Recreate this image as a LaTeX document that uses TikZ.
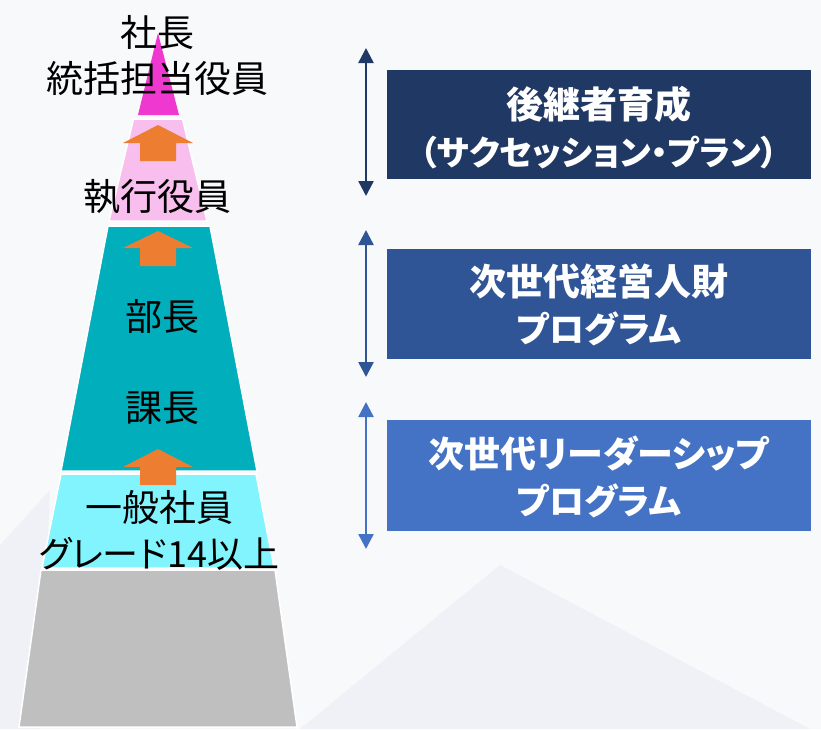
\documentclass[tikz,border=0pt]{standalone}
\usepackage{fontspec}
\setmainfont{Noto Sans CJK JP}[RawFeature=+palt]
\usetikzlibrary{arrows.meta}
\definecolor{bgbase}{HTML}{F8F9FB}
\definecolor{bgfacet}{HTML}{EFF1F6}
\definecolor{magentaL}{HTML}{EE38D0}
\definecolor{pinkL}{HTML}{F8BFEE}
\definecolor{tealL}{HTML}{00AEBC}
\definecolor{cyanL}{HTML}{82F4FE}
\definecolor{grayL}{HTML}{BFBFBF}
\definecolor{orangeA}{HTML}{ED7D31}
\definecolor{navyA}{HTML}{203864}
\definecolor{blueB}{HTML}{2F5597}
\definecolor{blueC}{HTML}{4472C4}
\newcommand{\kanasize}{\fontsize{35}{47}\selectfont}
\begin{document}
\begin{tikzpicture}[x=1pt,y=-1pt,
  layer/.style={draw=white,line width=1.5pt},
  lbl/.style={font=\fontsize{37}{46}\selectfont, text=black, align=center, inner sep=0pt},
  progbox/.style={font=\bfseries\fontsize{37}{47}\selectfont, text=white, align=center,
    minimum width=424pt, inner sep=0pt},
  uparrow/.style={fill=orangeA},
  span/.style={line width=2.5pt, {Triangle[width=15pt,length=15pt]}-{Triangle[width=15pt,length=15pt]}}
]
\useasboundingbox (0,0) rectangle (821,729);
% background
\fill[bgbase] (0,0) rectangle (821,729);
\fill[bgfacet] (300,729) -- (500,565) -- (810,729) -- cycle;
\fill[bgfacet] (0,545) -- (50,490) -- (40,729) -- (0,729) -- cycle;

% pyramid layers
\fill[magentaL] (158,33) -- (179,115) -- (138,115) -- cycle;
\filldraw[layer, fill=pinkL] (133.5,119) -- (182.5,119) -- (207,221) -- (109,221) -- cycle;
\filldraw[layer, fill=tealL] (108,226) -- (210,226) -- (257,471) -- (61,471) -- cycle;
\filldraw[layer, fill=cyanL] (61,474) -- (256,474) -- (274,568) -- (42,568) -- cycle;
\filldraw[layer, fill=grayL] (41,570) -- (275,570) -- (297,727) -- (19,727) -- cycle;

% orange arrows
\fill[uparrow] (158,125) -- (193,143) -- (176,143) -- (176,161) -- (140,161) -- (140,143) -- (123,143) -- cycle;
\fill[uparrow] (158,231) -- (193,248) -- (176,248) -- (176,266) -- (140,266) -- (140,248) -- (123,248) -- cycle;
\fill[uparrow] (158,449) -- (193,467) -- (176,467) -- (176,485) -- (140,485) -- (140,467) -- (123,467) -- cycle;

% labels
\node[lbl] (president) at (157,56) {社長\\統括担当役員};
\node[lbl] (exec) at (157,197) {執行役員};
\node[lbl] (bucho) at (162,317) {部長};
\node[lbl] (kacho) at (162,408) {課長};
\node[lbl] (staff) at (159,530) {一般社員\\{\fontsize{36}{46}\selectfont グレード14以上}};

% program boxes
\node[progbox, fill=navyA, minimum height=109pt] (succ) at (599,124.5) {};
\node[progbox] (succtxt) at ([yshift=-3pt]succ.center) {後継者育成\\{\fontsize{34}{47}\selectfont （サクセッション・プラン）}};
\node[progbox, fill=blueB, minimum height=110pt] (nextmgmt) at (599,304) {};
\node[progbox] (nextmgmttxt) at ([yshift=-1pt]nextmgmt.center) {次世代経営人財\\{\kanasize プログラム}};
\node[progbox, fill=blueC, minimum height=111pt] (nextlead) at (599,475.5) {};
\node[progbox] (nextleadtxt) at ([yshift=-1pt]nextlead.center) {{\fontsize{36}{47}\selectfont 次世代リーダーシップ}\\{\kanasize プログラム}};

% span arrows
\coordinate (a1t) at (366,48);
\coordinate (a1b) at (366,196);
\coordinate (a2t) at (366,230);
\coordinate (a2b) at (366,377);
\coordinate (a3t) at (366,402);
\coordinate (a3b) at (366,549);
\draw[span, navyA] (a1t) -- (a1b);
\draw[span, blueB] (a2t) -- (a2b);
\draw[span, blueC] (a3t) -- (a3b);
\end{tikzpicture}
\end{document}
